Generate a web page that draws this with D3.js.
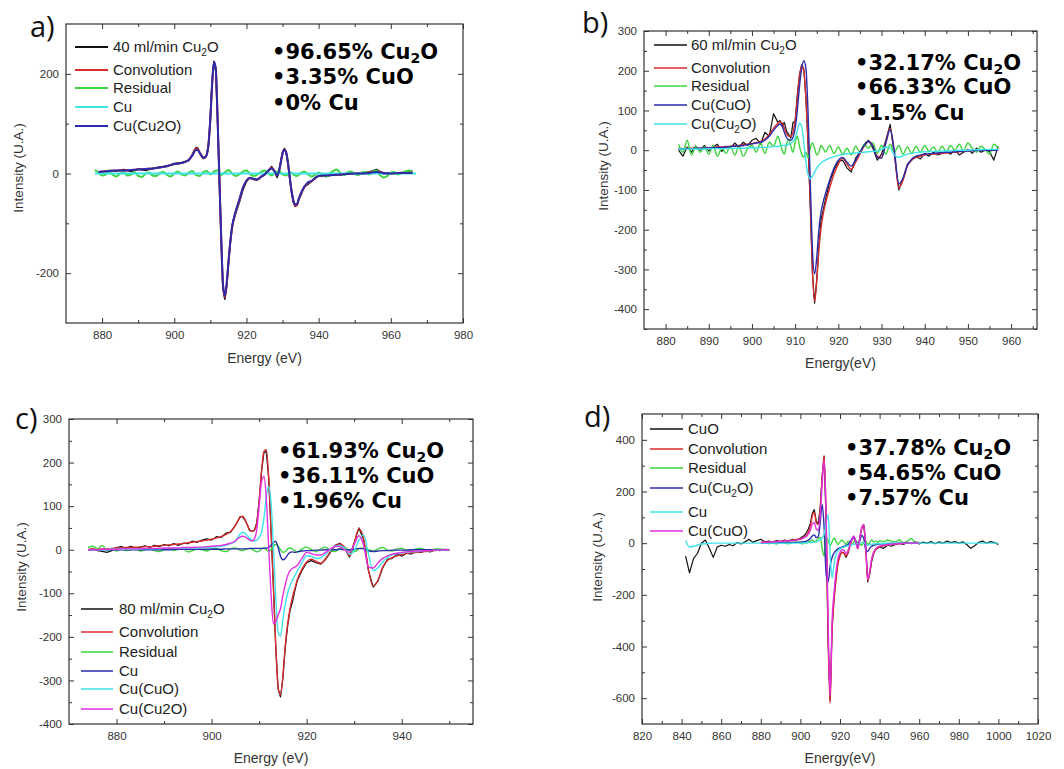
<!DOCTYPE html>
<html>
<head>
<meta charset="utf-8">
<script src="https://cdn.jsdelivr.net/npm/d3@7"></script>
<style>
  body { margin: 0; background: #fff; }
</style>
</head>
<body>
<svg id="fig" width="1064" height="769"></svg>
<script>
// ---------- data ----------

// panel a (40 ml/min)
var aE = [879,880,882,884,886,888,890,892,894,896, 898,900,902,904,905,906,906.5,907,908,908.5,
  909,909.5,910,910.5,911,911.5,912,912.5,913,913.5, 914,914.5,915,915.5,916,917,918,919,920,921,
  922,923,924,925,926,927,928,928.5,929,929.5, 930,930.5,931,931.5,932,932.5,933,933.5,934,934.5,
  935,936,937,938,939,940,942,944,946,948, 950,952,954,956,958,960,962,964,966];
var aData = [2,3,6,5,8,4,9,6,10,13, 14,20,22,26,38,52,51,42,30,33, 37,58,110,185,225,205,108,-12,-132,-230,
  -252,-226,-183,-142,-105,-80,-58,-33,-16,-8, -12,-13,-6,-3,6,14,1,-8,5,24, 43,50,44,20,-10,-38,-58,-66,-64,-50,
  -45,-26,-22,-16,-10,-4,-6,-2,-3,1, -1,2,3,8,-1,1,0,3,5];
var aConv = [3,4,5,6,6,7,8,9,10,12, 15,19,21,27,37,50,49,43,32,32, 38,60,110,180,222,210,110,-10,-130,-225,
  -248,-225,-180,-140,-110,-78,-55,-30,-15,-9, -11,-12,-7,-2,5,11,2,-4,4,22, 40,48,42,22,-8,-35,-55,-64,-63,-52,
  -42,-28,-19,-16,-10,-5,-4,-3,-2,-1, 0,0,2,5,1,0,1,2,2];
var aCu2O = [3,4,5,6,6,7,8,9,10,12, 15,19,21,27,36,47,47,42,32,32, 38,60,112,182,224,210,110,-10,-128,-222,
  -245,-222,-178,-138,-108,-76,-53,-29,-14,-9, -11,-12,-7,-2,5,10,2,-4,4,22, 40,47,42,22,-8,-35,-54,-62,-61,-51,
  -41,-27,-18,-15,-9,-5,-4,-3,-2,-1, 0,0,1,3,1,0,1,1,1];
var aResE = d3.range(878, 967);
var aRes = [7,2,-4,-2,3,-3,-6,0,2,-4, -2,3,-5,-7,-1,2,-4,-5,1,3, -3,-6,0,4,-2,-4,2,5,-3,-5,
  3,5,-2,4,6,-3,2,7,0,-5, -2,4,6,-1,-5,-2,3,6,1,-4, 2,5,-2,-4,3,-2,-5,1,4,-1,
  -6,-3,2,-2,-6,0,5,8,1,-3, 2,4,-1,-3,2,3,-2,4,6,-3, -8,-5,2,3,-2,1,4,6,0];
var aCuE = [878, 967];
var aCu = [0, 0];

// panel b (60 ml/min)
var bE = [].concat(d3.range(883, 907), d3.range(906.5, 917, 0.5), d3.range(917, 958));
var bData = [0,-15,8,-5,10,0,12,-2,8,15, -3,10,5,18,8,20,12,25,30,15, 45,35,92,70,
  75,62,70,48,40,30,70,72,140,190, 215,205,130,10,-140,-310,-385,-325,-240,-175, -150,
  -125,-80,-50,-28,-25,-45,-55,-20,-5,15, 25,5,-25,-10,25,65,-15,-100,-70,-35,
  -25,-15,-22,-8,-15,-5,-12,-8,-3,-10, 0,-12,-5,2,-8,5,-5,0,-3,-25, 10];
var bConv = [5,4,5,5,6,5,6,6,7,8, 8,9,10,11,12,14,15,17,19,22, 28,40,55,68,
  72,68,55,42,35,35,45,75,130,185, 212,200,130,20,-130,-300,-380,-330,-250,-195, -160,
  -135,-95,-60,-35,-20,-35,-48,-30,-10,10, 22,12,-15,-18,20,55,-10,-95,-75,-40,
  -25,-18,-15,-12,-10,-10,-9,-8,-7,-6, -5,-4,-3,-2,-1,-1,0,0,0,0, 0];
var bRes = [15,-5,25,-12,10,-5,8,-10,12,-15, 5,-8,10,-12,8,-15,5,12,-5,18, -8,20,10,35,
  20,0,-10,15,28,10,-5,20,35,10, -10,-18,-5,-20,5,18,5,-12,-5,12, 5,
  -5,12,-8,8,-10,5,-12,10,-5,15, 5,18,-8,12,-10,15,-5,12,-10,8,
  -8,10,-5,12,-3,8,-5,10,-3,12, 0,15,-2,18,5,-5,10,2,-10,15, 5];
var bCuO = [3,3,4,4,5,5,5,6,6,7, 7,8,9,10,11,12,14,16,18,20, 25,35,50,62,
  66,60,45,32,26,25,32,55,100,160, 205,225,205,90,-80,-250,-312,-270,-200,-155, -130,
  -110,-75,-45,-25,-18,-30,-40,-25,-5,12, 22,10,-18,-20,18,52,-5,-85,-70,-38,
  -22,-15,-12,-10,-9,-8,-7,-6,-5,-5, -4,-3,-2,-2,-1,-1,0,0,0,0, 0];
var bCu2O = [3,3,3,3,3,3,3,4,4,4, 4,4,5,5,5,5,6,6,6,7, 7,8,9,10,
  11,12,12,13,15,18,22,30,50,68, 60,20,-30,-62,-72,-66,-55,-45,-38,-32, -28,
  -25,-20,-16,-13,-11,-9,-8,-7,-6,-5, -4,-3,-2,2,8,5,-12,-18,-14,-10,
  -8,-6,-5,-4,-4,-3,-3,-2,-2,-1, -1,0,0,0,1,1,1,2,2,2, 2];

// panel c (80 ml/min)
var cE = [].concat(d3.range(874, 906), d3.range(905.5, 918.1, 0.5), d3.range(919, 951));
var cData = [0,2,-2,-4,-6,-2,5,7,3,8, 4,6,9,5,10,7,12,9,14,10, 15,14,20,17,22,25,22,30,28,38, 40,56,
  66,76,76,68,58,44,43,44,62,112, 178,222,226,165,45,-85,-225,-320,-338,-295, -225,-175,-140,-120,-95,-72,
  -48,-30,-25,-30,-33,-22,-6,10,15,4, -17,16,50,22,-48,-86,-72,-42,-22,-20, -10,-15,-8,-10,-4,-6,-3,-5,0,-2, 1,0];
var cConv = [0,1,1,2,2,3,4,4,5,5, 6,6,7,7,8,9,10,11,12,13, 14,16,17,19,20,22,24,27,30,35, 42,55,
  65,74,77,70,57,46,42,45,60,110, 180,225,230,170,50,-80,-220,-315,-333,-290, -220,-170,-135,-110,-90,-70,
  -45,-28,-22,-27,-31,-20,-5,8,13,5, -15,15,48,25,-45,-84,-70,-40,-25,-18, -14,-11,-9,-7,-6,-5,-4,-3,-2,-1, 0,0];
var cRes = [5,8,2,10,-2,3,-3,2,-2,0, 2,-3,0,3,-2,-4,0,2,-2,1, 3,-5,-2,2,0,-3,2,3,-2,-4, 2,4,
  2,-1,-2,0,2,3,1,-2,-5,-3, 2,4,0,-3,0,8,12,8,0,-6, -4,2,4,2,-2,-5,
  2,6,0,-5,2,6,-2,-4,3,5, -2,-4,2,4,0,-3,2,5,-1,-3, 2,3,-1,-2,2,3,0,-2,2,2, 0,0];
var cCu = [0,0,0,0,0,0,0,0,0,0, 0,0,0,0,0,0,0,0,1,1, 1,1,1,1,1,1,1,1,1,2, 2,2,
  2,2,2,2,2,3,3,3,3,3, 3,3,4,5,10,17,19,5,-15,-23, -20,-12,-6,-5,-6,-5,
  -3,-2,-2,-1,-1,0,0,0,1,0, 0,1,3,2,-3,-4,-3,-2,-2,-1, -1,-1,-1,0,0,0,0,0,0,0, 0,0];
var cCuO = [0,0,0,0,0,1,1,1,1,1, 1,2,2,2,2,2,3,3,3,3, 3,4,4,4,5,5,6,7,8,10, 14,20,
  28,36,40,38,32,26,22,20,22,28, 40,70,120,145,110,10,-110,-190,-198,-160, -125,-100,-82,-70,-60,-50,
  -30,-14,-15,-20,-18,-10,0,8,10,3, -10,-2,22,34,-10,-48,-42,-28,-18,-12, -9,-7,-6,-5,-4,-3,-2,-2,-1,-1, 0,0];
var cCu2O = [0,0,0,1,1,1,1,2,2,2, 2,2,3,3,3,3,4,4,4,4, 5,5,5,6,6,7,8,9,10,12, 15,20,
  25,29,31,30,26,22,20,25,45,100, 155,168,120,10,-100,-170,-165,-150,-135,-105, -80,-60,-48,-43,-40,-36,
  -20,-6,-9,-12,-12,-6,2,8,7,0, -6,12,32,10,-40,-42,-30,-20,-14,-10, -8,-6,-5,-4,-3,-3,-2,-2,-1,-1, 0,0];

// panel d (CuO reference)
var dE = [].concat(d3.range(842, 900, 2), d3.range(900, 940), d3.range(940, 1001, 2));
var dData = [-50,-115,-60,-40,0,12,-20,-55,-15,-8, -12,-5,-10,2,-3,5,15,3,10,15, 5,8,3,10,5,12,8,15,12,
  20,25,30,40,55,75,115,130,85,75, 140,260,335,80,-380,-610,-330,-210,-130,-70,
  -45,-35,-38,-55,-40,-10,15,25,5,-20, 20,60,70,-10,-150,-120,-70,-40,-25,-20,
  -15,-20,-8,-12,-5,0,-5,3,-2,5, -3,4,0,6,-2,5,0,8,2,6, 0,5,-5,-20,-10,3,8,0,6,2, -5];
var dCu = [10,-15,-12,-8,-3,-2,-1,0,0,0, 0,0,0,0,0,0,0,0,0,0, 0,0,0,0,0,0,0,0,0,
  0,0,1,1,2,2,3,4,5,8, 12,20,35,80,110,-40,-135,-80,-45,-30,
  -22,-18,-15,-12,-10,-8,-6,-4,-3,-2, 0,2,3,-5,-8,-6,-4,-3,-2,-2,
  -1,-1,0,0,0,0,0,0,0,0, 0,0,0,0,0,0,0,0,0,0, 0,0,0,0,0,0,0,0,0,0, 0];
var dFitE = [].concat(d3.range(880, 900, 2), d3.range(900, 940), d3.range(940, 961, 2));
var dConv = [3,4,5,6,7,8,9,10,12,14,
  17,20,24,30,42,65,105,120,80,72, 130,250,340,90,-370,-620,-340,-220,-140,-80,
  -50,-35,-40,-50,-38,-12,12,22,2,-22, 18,58,65,-15,-145,-115,-65,-38,-25,-18,
  -14,-10,-7,-5,-3,-2,-1,0,0,0,0];
var dRes = [0,3,-2,2,-3,4,0,-2,3,5,
  2,-3,4,0,5,8,12,5,10,18, 22,-20,-50,25,10,-10,5,20,8,-5,
  5,12,3,-5,8,2,-6,4,10,0, -4,-8,3,10,-5,2,12,5,8,3,
  10,5,12,8,5,12,3,8,18,2,5];
var dCu2O = [0,0,1,1,1,2,2,2,3,3,
  4,5,6,8,12,18,28,32,22,25, 80,150,60,-120,-150,-90,-55,-38,-28,-22,
  -18,-15,-12,-10,-5,5,15,22,8,-5, 10,30,18,-25,-32,-20,-12,-8,-6,-4,
  -3,-2,-2,-1,-1,0,0,0,0,0,0];
var dCuO = [2,3,4,5,6,7,8,9,10,12,
  15,18,22,26,35,50,75,80,55,50, 110,230,320,110,-300,-590,-300,-190,-110,-60,
  -35,-25,-28,-40,-30,-8,15,28,5,-20, 20,60,72,-10,-140,-110,-60,-35,-22,-15,
  -12,-8,-6,-4,-3,-2,-1,0,0,0,0];

var notesA = ["\u202296.65% Cu_2O", "\u20223.35% CuO", "\u20220% Cu"];
var notesB = ["\u202232.17% Cu_2O", "\u202266.33% CuO", "\u20221.5% Cu"];
var notesC = ["\u202261.93% Cu_2O", "\u202236.11% CuO", "\u20221.96% Cu"];
var notesD = ["\u202237.78% Cu_2O", "\u202254.65% CuO", "\u20227.57% Cu"];

// ---------- drawing ----------
var K = "#111", R = "#d92b2b", G = "#3dd43d", C = "#3fe3ea", B = "#2b2bab", M = "#e22fe2";
var FONT = "'Liberation Sans', Arial, sans-serif";
var svg = d3.select("#fig");

// "_2" marks a subscript digit
function richText(t, str, subSize, shift) {
  var parts = str.split(/_(\d)/);
  parts.forEach(function(p, i) {
    if (i % 2) {
      t.append("tspan").attr("font-size", subSize).attr("dy", shift).text(p);
    } else if (p) {
      var s = t.append("tspan").text(p);
      if (i > 0) s.attr("dy", -shift);
    }
  });
}

function drawPanel(p) {
  var g = svg.append("g");
  var x = d3.scaleLinear().domain(p.xDom).range([p.x, p.x + p.w]);
  var y = d3.scaleLinear().domain(p.yDom).range([p.y + p.h, p.y]);
  var bot = p.y + p.h, right = p.x + p.w;

  g.append("clipPath").attr("id", "clip" + p.name)
    .append("rect").attr("x", p.x).attr("y", p.y).attr("width", p.w).attr("height", p.h);

  function axis(fn, scale, vals, len, lab, pad, tx, ty) {
    var a = fn(scale).tickValues(vals).tickSizeInner(-len).tickSizeOuter(0).tickPadding(pad)
      .tickFormat(lab ? function(d) { return String(d); } : "");
    var ag = g.append("g").attr("transform", "translate(" + tx + "," + ty + ")").call(a);
    ag.select(".domain").remove();
    ag.selectAll("line").attr("stroke", "#333");
    ag.selectAll("text").attr("font-family", FONT).attr("font-size", 11.5).attr("fill", "#333");
  }
  axis(d3.axisBottom, x, p.xMajor, 5, true, 8, 0, bot);
  axis(d3.axisBottom, x, p.xMinor, 3, false, 0, 0, bot);
  axis(d3.axisTop, x, p.xMajor, 5, false, 0, 0, p.y);
  axis(d3.axisTop, x, p.xMinor, 3, false, 0, 0, p.y);
  axis(d3.axisLeft, y, p.yMajor, 5, true, 7, p.x, 0);
  axis(d3.axisLeft, y, p.yMinor, 3, false, 0, p.x, 0);
  axis(d3.axisRight, y, p.yMajor, 5, false, 0, right, 0);
  axis(d3.axisRight, y, p.yMinor, 3, false, 0, right, 0);

  var cg = g.append("g").attr("clip-path", "url(#clip" + p.name + ")");
  p.series.forEach(function(s) {
    var pts = s.e.map(function(e, i) { return [e, s.v[i]]; });
    var line = d3.line()
      .x(function(d) { return x(d[0]); })
      .y(function(d) { return y(d[1]); })
      .curve(s.raw ? d3.curveLinear : d3.curveMonotoneX);
    cg.append("path").datum(pts).attr("d", line)
      .attr("fill", "none").attr("stroke", s.col)
      .attr("stroke-width", s.raw ? p.rawW : p.lw)
      .attr("stroke-linejoin", "round");
  });

  g.append("rect").attr("x", p.x).attr("y", p.y).attr("width", p.w).attr("height", p.h)
    .attr("fill", "none").attr("stroke", "#333").attr("stroke-width", 1.2);

  // legend
  p.series.forEach(function(s, i) {
    var ly = p.leg.rows[i];
    g.append("line").attr("x1", p.leg.x1).attr("x2", p.leg.x2).attr("y1", ly).attr("y2", ly)
      .attr("stroke", s.col).attr("stroke-width", p.legW);
    var t = g.append("text").attr("x", p.leg.tx).attr("y", ly + 5)
      .attr("font-family", FONT).attr("font-size", 15).attr("fill", "#222");
    richText(t, s.lab, 10, 4);
  });

  // composition notes
  p.notes.forEach(function(n, i) {
    var t = g.append("text").attr("x", p.noteX).attr("y", p.noteY[i])
      .attr("font-family", "'DejaVu Sans', Verdana, sans-serif").attr("font-weight", "bold")
      .attr("font-size", 21).attr("fill", "#000");
    richText(t, n, 14, 4);
  });

  // titles
  g.append("text").attr("x", p.x + p.w / 2).attr("y", p.xtY).attr("text-anchor", "middle")
    .attr("font-family", FONT).attr("font-size", 14).attr("fill", "#333").text(p.xTitle);
  g.append("text").attr("transform", "translate(" + p.ytX + "," + p.ytY + ") rotate(-90)")
    .attr("text-anchor", "middle").attr("font-family", FONT).attr("font-size", 13.5)
    .attr("fill", "#333").text("Intensity (U.A.)");
  g.append("text").attr("x", p.lab.x).attr("y", p.lab.y)
    .attr("font-family", "'Open Sans', sans-serif").attr("font-size", p.lab.size)
    .attr("fill", "#111").text(p.lab.t);
}

drawPanel({
  name: "a", x: 66, y: 24, w: 397, h: 299,
  xDom: [870, 980], yDom: [-300, 300],
  xMajor: d3.range(880, 981, 20), xMinor: d3.range(890, 980, 20),
  yMajor: [-200, 0, 200], yMinor: [-100, 100],
  lw: 2, rawW: 1.6, legW: 2,
  series: [
    { lab: "40 ml/min Cu_2O", col: K, e: aE, v: aData, raw: true },
    { lab: "Convolution", col: R, e: aE, v: aConv },
    { lab: "Residual", col: G, e: aResE, v: aRes },
    { lab: "Cu", col: C, e: aCuE, v: aCu },
    { lab: "Cu(Cu2O)", col: B, e: aE, v: aCu2O }
  ],
  leg: { x1: 75, x2: 108, tx: 113, rows: [47, 70, 88, 107, 126] },
  notes: notesA, noteX: 272, noteY: [59, 84, 110],
  xTitle: "Energy (eV)", xtY: 363, ytX: 23, ytY: 168,
  lab: { t: "a)", x: 30, y: 37, size: 29 }
});

drawPanel({
  name: "b", x: 644, y: 31, w: 393, h: 298,
  xDom: [875, 966], yDom: [-450, 300],
  xMajor: d3.range(880, 961, 10), xMinor: d3.range(885, 966, 10),
  yMajor: d3.range(-400, 301, 100), yMinor: d3.range(-450, 300, 100),
  lw: 1.4, rawW: 1.2, legW: 1.5,
  series: [
    { lab: "60 ml/min Cu_2O", col: K, e: bE, v: bData, raw: true },
    { lab: "Convolution", col: R, e: bE, v: bConv },
    { lab: "Residual", col: G, e: bE, v: bRes },
    { lab: "Cu(CuO)", col: B, e: bE, v: bCuO },
    { lab: "Cu(Cu_2O)", col: C, e: bE, v: bCu2O }
  ],
  leg: { x1: 654, x2: 687, tx: 691, rows: [45, 68, 86, 105, 124] },
  notes: notesB, noteX: 855, noteY: [70, 94, 120],
  xTitle: "Energy(eV)", xtY: 368, ytX: 608, ytY: 166,
  lab: { t: "b)", x: 582, y: 33, size: 29 }
});

drawPanel({
  name: "c", x: 69, y: 419, w: 404, h: 305,
  xDom: [870, 955], yDom: [-400, 300],
  xMajor: d3.range(880, 941, 20), xMinor: d3.range(890, 951, 20),
  yMajor: d3.range(-400, 301, 100), yMinor: d3.range(-350, 300, 100),
  lw: 1.4, rawW: 1.2, legW: 1.5,
  series: [
    { lab: "80 ml/min Cu_2O", col: K, e: cE, v: cData, raw: true },
    { lab: "Convolution", col: R, e: cE, v: cConv },
    { lab: "Residual", col: G, e: cE, v: cRes },
    { lab: "Cu", col: B, e: cE, v: cCu },
    { lab: "Cu(CuO)", col: C, e: cE, v: cCuO },
    { lab: "Cu(Cu2O)", col: M, e: cE, v: cCu2O }
  ],
  leg: { x1: 81, x2: 113, tx: 119, rows: [609, 632, 652, 671, 689, 709] },
  notes: notesC, noteX: 278, noteY: [458, 483, 508],
  xTitle: "Energy (eV)", xtY: 763, ytX: 26, ytY: 567,
  lab: { t: "c)", x: 15, y: 429, size: 29 }
});

drawPanel({
  name: "d", x: 642, y: 414, w: 396, h: 310,
  xDom: [820, 1020], yDom: [-700, 500],
  xMajor: d3.range(820, 1021, 20), xMinor: d3.range(830, 1020, 20),
  yMajor: d3.range(-600, 401, 200), yMinor: d3.range(-500, 500, 200),
  lw: 1.4, rawW: 1.2, legW: 1.5,
  series: [
    { lab: "CuO", col: K, e: dE, v: dData, raw: true },
    { lab: "Convolution", col: R, e: dFitE, v: dConv },
    { lab: "Residual", col: G, e: dFitE, v: dRes },
    { lab: "Cu(Cu_2O)", col: B, e: dFitE, v: dCu2O },
    { lab: "Cu", col: C, e: dE, v: dCu },
    { lab: "Cu(CuO)", col: M, e: dFitE, v: dCuO }
  ],
  leg: { x1: 650, x2: 683, tx: 688, rows: [429, 449, 468, 488, 512, 531] },
  notes: notesD, noteX: 845, noteY: [455, 480, 505],
  xTitle: "Energy(eV)", xtY: 763, ytX: 602, ytY: 557,
  lab: { t: "d)", x: 584, y: 427, size: 29 }
});
</script>
</body>
</html>
